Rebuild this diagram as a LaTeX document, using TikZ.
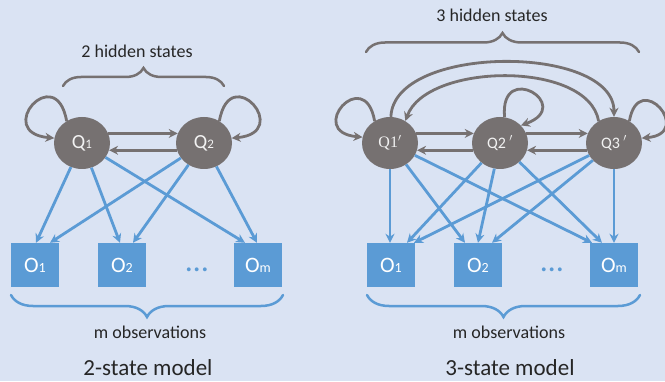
\documentclass[tikz,border=0pt]{standalone}
\usepackage{fontspec}
\setmainfont{Carlito}
\newfontfamily\serifq{Liberation Serif}
\usetikzlibrary{arrows.meta,decorations.pathreplacing,shapes.geometric}
\definecolor{bg}{HTML}{DAE3F3}
\definecolor{stategray}{HTML}{767171}
\definecolor{obsblue}{HTML}{5B9BD5}
\definecolor{txt}{HTML}{262626}
\definecolor{lighttxt}{HTML}{F2F2F2}
\newcommand\smq[1]{{\fontsize{13}{13}\selectfont #1}}
\newcommand\smo[1]{{\fontsize{14}{14}\selectfont #1}}
\begin{document}
\begin{tikzpicture}[x=1pt,y=1pt,
  state/.style={ellipse, fill=stategray, minimum width=56, minimum height=52, inner sep=0, text=lighttxt, font=\fontsize{20}{20}\selectfont},
  stateb/.style={state, font=\fontsize{16}{16}\selectfont},
  obs/.style={rectangle, fill=obsblue, minimum width=48, minimum height=44, inner sep=0, text=white, font=\fontsize{22}{22}\selectfont},
  dotsnode/.style={text=obsblue, font=\fontsize{32}{32}\selectfont, inner sep=0},
  garrow/.style={draw=stategray, line width=2.8, -{Stealth[length=9,width=9]}},
  barrow/.style={draw=obsblue, line width=2.8, -{Stealth[length=9,width=9]}},
  gbrace/.style={draw=stategray, line width=2.5, line cap=round, decorate, decoration={brace, amplitude=#1}},
  bbrace/.style={draw=obsblue, line width=2.5, line cap=round, decorate, decoration={brace, amplitude=#1}},
  lab/.style={text=txt, font=\fontsize{18}{18}\selectfont, inner sep=0},
  ttl/.style={text=txt, font=\fontsize{23}{23}\selectfont, inner sep=0, anchor=base}
]
\fill[bg] (0,0) rectangle (665,381);
\useasboundingbox (0,0) rectangle (665,381);

% ---------- left: 2-state model ----------
\node[state] (Q1) at (82,238) {Q\smq{1}};
\node[state] (Q2) at (204,238) {Q\smq{2}};
\node[obs] (O1) at (35,116) {O\smo{1}};
\node[obs] (O2) at (122,116) {O\smo{2}};
\node[obs] (Om) at (258,116) {O\smo{m}};
\node[dotsnode] (D1) at (197,111) {…};

\draw[barrow] (Q1) -- ([xshift=1]O1.north);
\draw[barrow] (Q2) -- ([xshift=15]O1.north);
\draw[barrow] (Q1) -- ([xshift=-2]O2.north);
\draw[barrow] (Q2) -- ([xshift=11]O2.north);
\draw[barrow] (Q1) -- ([xshift=-13]Om.north);
\draw[barrow] (Q2) -- ([xshift=-1]Om.north);

\draw[garrow] (Q1.20) -- (Q2.160);
\draw[garrow] (Q2.-165) -- (Q1.-15);
\draw[garrow] (Q1.125) to[out=100,in=175,distance=62] (Q1.170);
\draw[garrow] (Q2.55) to[out=80,in=5,distance=62] (Q2.10);

\draw[gbrace=18] (63,295) -- (224,295);
\node[lab] (h1) at (137,330) {2 hidden states};
\draw[bbrace=22] (283,86) -- (11,86);
\node[lab] (m1) at (150,49) {m observations};
\node[ttl] (t1) at (148,6) {2-state model};

% ---------- right: 3-state model ----------
\node[stateb] (P1) at (390,238) {\serifq Q1$'$};
\node[stateb] (P2) at (500,238) {Q2 $'$};
\node[stateb] (P3) at (614,238) {Q3 $'$};
\node[obs] (R1) at (391,116) {O\smo{1}};
\node[obs] (R2) at (478,116) {O\smo{2}};
\node[obs] (Rm) at (614,116) {O\smo{m}};
\node[dotsnode] (D2) at (552,111) {…};

\draw[barrow] (P1) -- ([xshift=-1]R1.north);
\draw[barrow] (P2) -- ([xshift=16]R1.north);
\draw[barrow] (P3) -- ([xshift=23]R1.north);
\draw[barrow] (P1) -- ([xshift=-13]R2.north);
\draw[barrow] (P2) -- ([xshift=0]R2.north);
\draw[barrow] (P3) -- ([xshift=14]R2.north);
\draw[barrow] (P1) -- ([xshift=-22]Rm.north);
\draw[barrow] (P2) -- ([xshift=-12]Rm.north);
\draw[barrow] (P3) -- ([xshift=0]Rm.north);

\draw[garrow] (P1.20) -- (P2.160);
\draw[garrow] (P2.-165) -- (P1.-15);
\draw[garrow] (P2.20) -- (P3.160);
\draw[garrow] (P3.-165) -- (P2.-15);
\draw[garrow] (P1.125) to[out=100,in=175,distance=58] (P1.168);
\draw[garrow] (P2.80) to[out=95,in=20,distance=58] (P2.40);
\draw[garrow] (P3.55) to[out=80,in=5,distance=54] (P3.10);
\draw[garrow] (P1.88) to[out=88,in=90,distance=73] (P3.90);
\draw[garrow] (P3.125) to[out=100,in=70,distance=62] (P1.55);

\draw[gbrace=19] (366,329) -- (639,329);
\node[lab] (h2) at (492,366) {3 hidden states};
\draw[bbrace=22] (640,86) -- (367,86);
\node[lab] (m2) at (509,49) {m observations};
\node[ttl] (t2) at (510,6) {3-state model};
\end{tikzpicture}
\end{document}
